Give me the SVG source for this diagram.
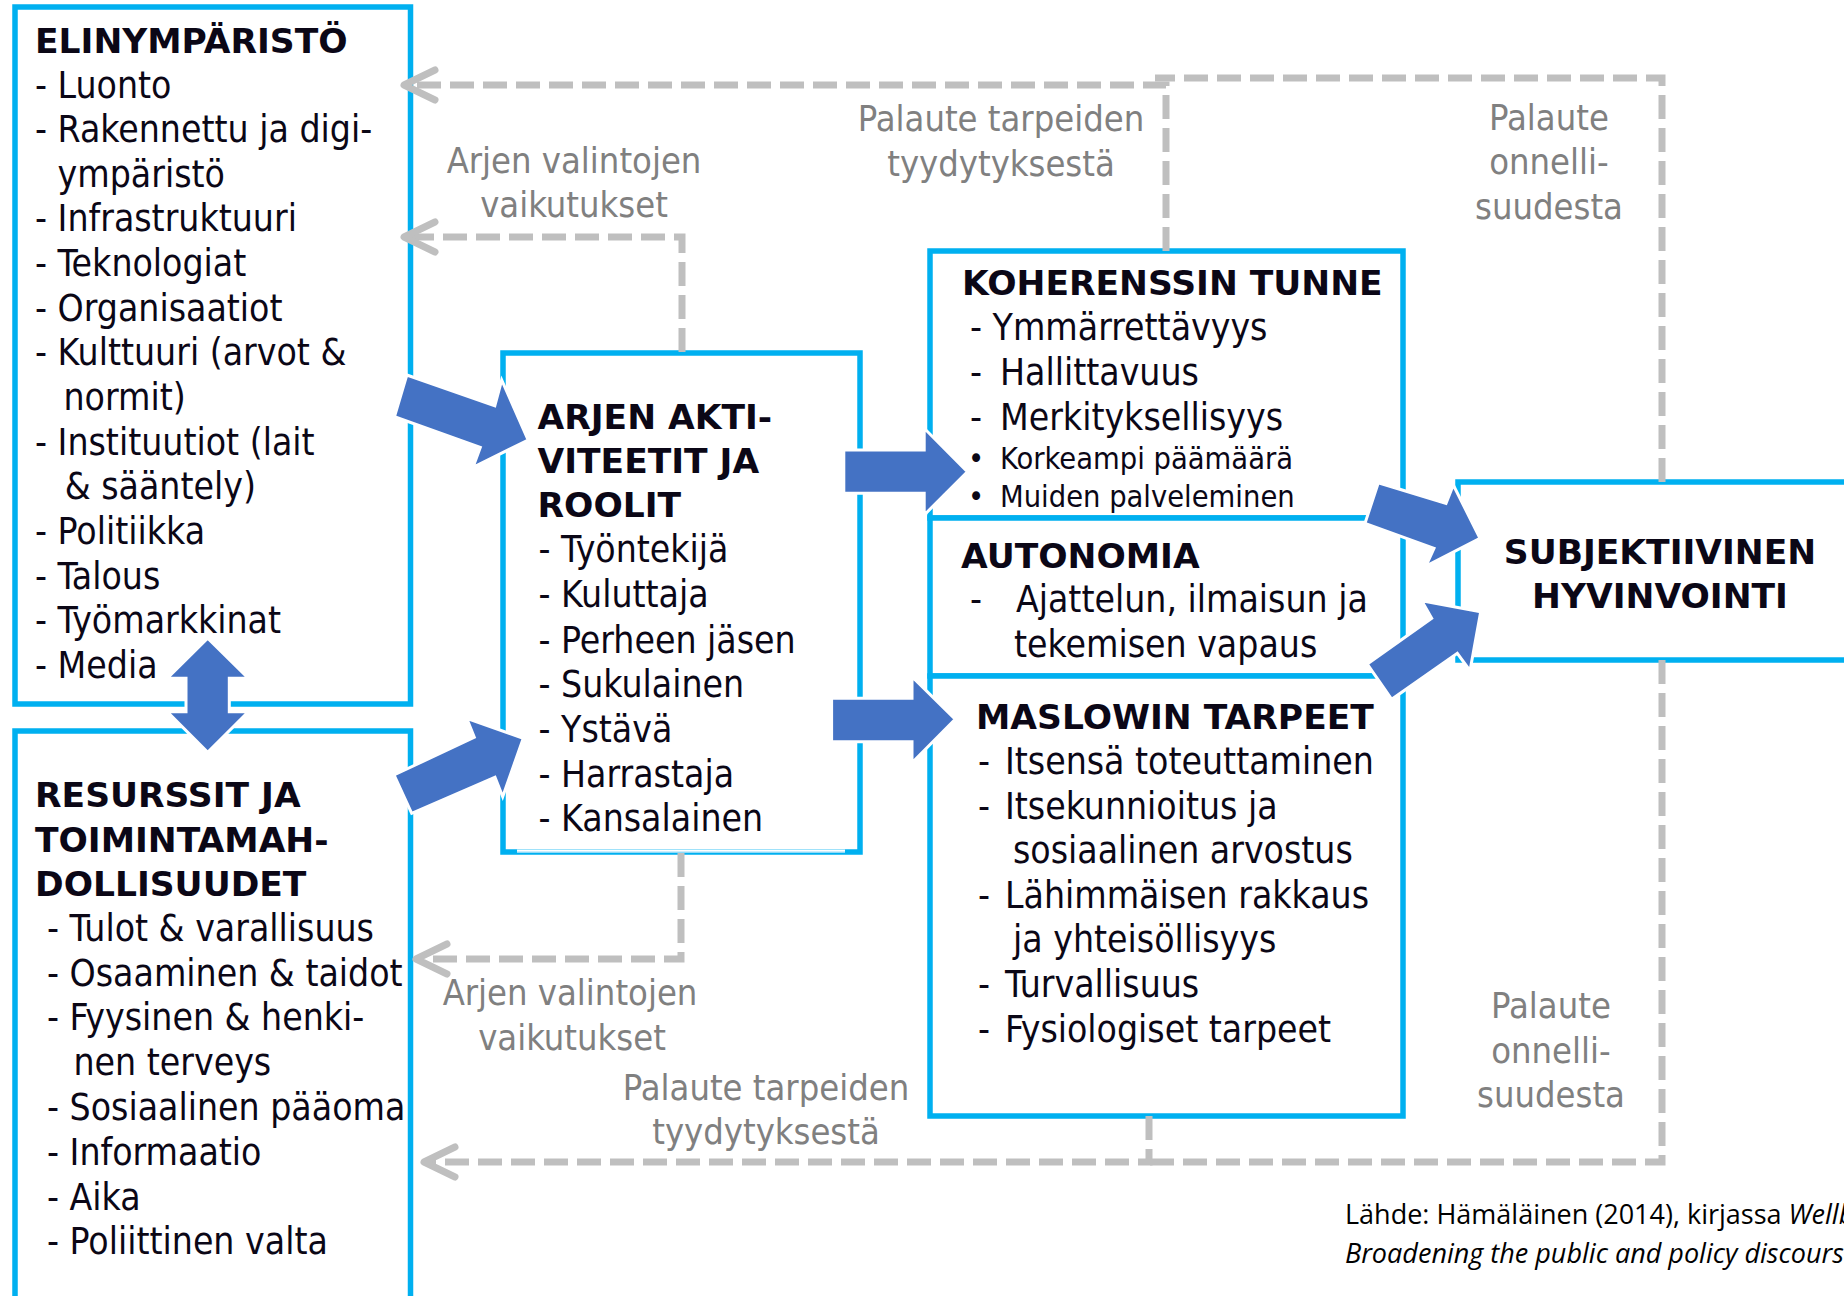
<svg xmlns="http://www.w3.org/2000/svg" width="1844" height="1296" viewBox="0 0 1844 1296">
<defs>
<style>
.box{fill:#fff;stroke:#00B0F0;stroke-width:5.5}
.t{font-family:"DejaVu Sans Condensed","DejaVu Sans",sans-serif;font-stretch:condensed;font-size:37px;fill:#0b0716}
.s{font-size:30.5px}
.b{font-family:"DejaVu Sans","Noto Sans",sans-serif;font-weight:bold;font-size:34.5px;fill:#0b0716}
.g{font-family:"DejaVu Sans Condensed","DejaVu Sans",sans-serif;font-stretch:condensed;font-size:36px;fill:#808080;text-anchor:middle}
.conn{fill:none;stroke:#BFBFBF;stroke-width:7;stroke-dasharray:24 9}
.blk{fill:#4472C4;stroke:#fff;stroke-width:3}
.src{font-family:"Open Sans","Liberation Sans",sans-serif;font-size:27px;fill:#000}
</style>
<marker id="chev" markerUnits="userSpaceOnUse" overflow="visible" orient="auto" refX="0" refY="0" markerWidth="40" markerHeight="40">
<path d="M-31,-15 L0,0 L-31,15" fill="none" stroke="#BFBFBF" stroke-width="7" stroke-linecap="round" stroke-linejoin="round"/>
</marker>
</defs>
<rect x="0" y="0" width="1844" height="1296" fill="#fff"/>

<g id="elinymparisto">
<rect class="box" x="15" y="7" width="395.5" height="697"/>
<text class="b" x="35" y="53">ELINYMPÄRISTÖ</text>
<text class="t" x="35" y="97.5">- Luonto</text>
<text class="t" x="35" y="142">- Rakennettu ja digi-</text>
<text class="t" x="57.6" y="186.5">ympäristö</text>
<text class="t" x="35" y="231">- Infrastruktuuri</text>
<text class="t" x="35" y="276">- Teknologiat</text>
<text class="t" x="35" y="320.5">- Organisaatiot</text>
<text class="t" x="35" y="365">- Kulttuuri (arvot &amp;</text>
<text class="t" x="63.5" y="410">normit)</text>
<text class="t" x="35" y="454.5">- Instituutiot (lait</text>
<text class="t" x="64.7" y="499">&amp; sääntely)</text>
<text class="t" x="35" y="544">- Politiikka</text>
<text class="t" x="35" y="588.5">- Talous</text>
<text class="t" x="35" y="633">- Työmarkkinat</text>
<text class="t" x="35" y="678">- Media</text>
</g>

<g id="resurssit">
<rect class="box" x="15" y="731" width="395.5" height="620"/>
<text class="b" x="35" y="807">RESURSSIT JA</text>
<text class="b" x="35" y="851.5">TOIMINTAMAH-</text>
<text class="b" x="35" y="896">DOLLISUUDET</text>
<text class="t" x="47" y="941">- Tulot &amp; varallisuus</text>
<text class="t" x="47" y="986">- Osaaminen &amp; taidot</text>
<text class="t" x="47" y="1030">- Fyysinen &amp; henki-</text>
<text class="t" x="73.5" y="1075">nen terveys</text>
<text class="t" x="47" y="1120">- Sosiaalinen pääoma</text>
<text class="t" x="47" y="1165">- Informaatio</text>
<text class="t" x="47" y="1209.5">- Aika</text>
<text class="t" x="47" y="1254">- Poliittinen valta</text>
</g>

<g id="arjen">
<rect class="box" x="503" y="353" width="357" height="499"/>
<line x1="517" y1="851" x2="845" y2="851" stroke="#fff" stroke-width="3"/>
<line x1="517" y1="852" x2="845" y2="852" stroke="#9fdcf7" stroke-width="1.2"/>
<text class="b" x="537.5" y="428.5">ARJEN AKTI-</text>
<text class="b" x="537.5" y="472.5">VITEETIT JA</text>
<text class="b" x="537.5" y="517">ROOLIT</text>
<text class="t" x="538.5" y="562">- Työntekijä</text>
<text class="t" x="538.5" y="607">- Kuluttaja</text>
<text class="t" x="538.5" y="652.5">- Perheen jäsen</text>
<text class="t" x="538.5" y="697">- Sukulainen</text>
<text class="t" x="538.5" y="741.5">- Ystävä</text>
<text class="t" x="538.5" y="786.5">- Harrastaja</text>
<text class="t" x="538.5" y="831">- Kansalainen</text>
</g>

<g id="koherenssi">
<rect class="box" x="930" y="251" width="473" height="267"/>
<text class="b" x="962" y="295">KOHERENSSIN TUNNE</text>
<text class="t" x="970" y="340">- Ymmärrettävyys</text>
<text class="t" y="385"><tspan x="970">-</tspan><tspan x="989.4"> Hallittavuus</tspan></text>
<text class="t" y="430"><tspan x="970">-</tspan><tspan x="989.4"> Merkityksellisyys</tspan></text>
<text class="t s" y="469"><tspan x="968">•</tspan><tspan x="991.3"> Korkeampi päämäärä</tspan></text>
<text class="t s" y="507"><tspan x="968">•</tspan><tspan x="991.3"> Muiden palveleminen</tspan></text>
</g>

<g id="autonomia">
<rect class="box" x="930" y="518" width="473" height="158"/>
<text class="b" x="961" y="568">AUTONOMIA</text>
<text class="t" y="612"><tspan x="970">-</tspan><tspan x="1005.4"> Ajattelun, ilmaisun ja</tspan></text>
<text class="t" x="1014" y="657">tekemisen vapaus</text>
</g>

<g id="maslow">
<rect class="box" x="930" y="676" width="473" height="440"/>
<text class="b" x="976" y="729">MASLOWIN TARPEET</text>
<text class="t" y="774"><tspan x="978">-</tspan><tspan x="994.4"> Itsensä toteuttaminen</tspan></text>
<text class="t" y="819"><tspan x="978">-</tspan><tspan x="994.4"> Itsekunnioitus ja</tspan></text>
<text class="t" x="1013" y="863">sosiaalinen arvostus</text>
<text class="t" y="908"><tspan x="978">-</tspan><tspan x="994.4"> Lähimmäisen rakkaus</tspan></text>
<text class="t" x="1013" y="952">ja yhteisöllisyys</text>
<text class="t" y="997"><tspan x="978">-</tspan><tspan x="994.4"> Turvallisuus</tspan></text>
<text class="t" y="1042"><tspan x="978">-</tspan><tspan x="994.4"> Fysiologiset tarpeet</tspan></text>
</g>

<g id="subjektiivinen">
<rect class="box" x="1458" y="482" width="420" height="178"/>
<text class="b" x="1660" y="564" text-anchor="middle" font-size="35.5">SUBJEKTIIVINEN</text>
<text class="b" x="1660" y="608" text-anchor="middle" font-size="35.5">HYVINVOINTI</text>
</g>

<g id="connectors">
<path class="conn" d="M1166,251 L1166,85 L404,85" marker-end="url(#chev)"/>
<path class="conn" d="M1662,482 L1662,78 L1155,78"/>
<path class="conn" d="M682,352 L682,237 L404,237" marker-end="url(#chev)"/>
<path class="conn" d="M681,853 L681,959 L416,959" marker-end="url(#chev)"/>
<path class="conn" d="M1149,1116 L1149,1162 L424,1162" marker-end="url(#chev)"/>
<path class="conn" d="M1662,660 L1662,1162 L1149,1162"/>

<polygon class="blk" points="406.8,375 494.8,405.7 501.7,380 528.1,440 473,467.3 480.3,447.3 394.5,416.7"/>
<polygon class="blk" points="394,775 474.3,737.3 466.7,718.3 523.3,738.3 502.7,796.7 495,777.3 411.7,813.3"/>
<polygon class="blk" points="843.8,450 924.2,450 924.2,428.3 967.4,471.7 924.2,515 924.2,493.3 843.8,493.3"/>
<polygon class="blk" points="831.6,698.3 912,698.3 912,676.7 955.2,719.3 912,762.7 912,741.7 831.6,741.7"/>
<polygon class="blk" points="1378.3,482.7 1446,503.3 1453.3,485 1480,538.3 1426,566 1434,548.3 1365,523.3"/>
<polygon class="blk" points="1367.3,664 1431.7,618.3 1421.7,600.7 1480.7,611.7 1470,670.7 1457.3,653.3 1391.7,699.3"/>
<polygon class="blk" points="207.7,638.3 248.3,678.3 229.3,678.3 229.3,711.7 248.3,711.7 207.7,752.3 167.3,711.7 186,711.7 186,678.3 167.3,678.3"/>
</g>

<g id="labels">
<text class="g" x="574" y="173">Arjen valintojen</text>
<text class="g" x="574" y="217">vaikutukset</text>
<text class="g" x="1001" y="131">Palaute tarpeiden</text>
<text class="g" x="1001" y="176">tyydytyksestä</text>
<text class="g" x="1549" y="130">Palaute</text>
<text class="g" x="1549" y="174">onnelli-</text>
<text class="g" x="1549" y="219">suudesta</text>
<text class="g" x="570" y="1005">Arjen valintojen</text>
<text class="g" x="572" y="1050">vaikutukset</text>
<text class="g" x="766" y="1100">Palaute tarpeiden</text>
<text class="g" x="766" y="1144">tyydytyksestä</text>
<text class="g" x="1551" y="1018">Palaute</text>
<text class="g" x="1551" y="1063">onnelli-</text>
<text class="g" x="1551" y="1107">suudesta</text>
</g>

<g id="source">
<text class="src" x="1345" y="1224">Lähde: Hämäläinen (2014), kirjassa <tspan font-style="italic">Wellbeing and Beyond:</tspan></text>
<text class="src" x="1345" y="1263" font-style="italic">Broadening the public and policy discourse</text>
</g>
</svg>
